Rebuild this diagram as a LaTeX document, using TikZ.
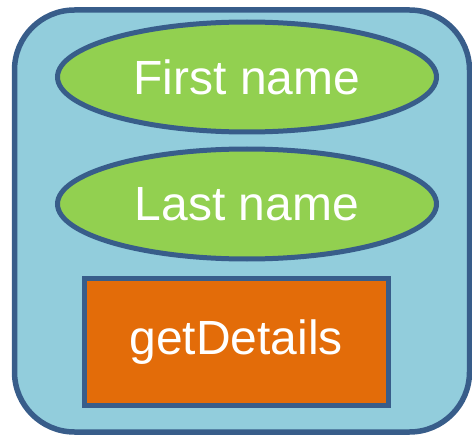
\documentclass[tikz,border=0pt]{standalone}
\usepackage{fontspec}
\setmainfont{Liberation Sans}
\usetikzlibrary{shapes.geometric}
\definecolor{panelfill}{HTML}{92CDDC}
\definecolor{edgeblue}{HTML}{385D8A}
\definecolor{fieldgreen}{HTML}{92D050}
\definecolor{methodorange}{HTML}{E36C09}
\tikzset{
  panel/.style={draw=edgeblue, fill=panelfill, line width=5.5pt, rounded corners=60pt},
  field/.style={ellipse, draw=edgeblue, fill=fieldgreen, line width=5pt,
    inner sep=0pt, minimum width=379pt, minimum height=110pt,
    text=white, font=\fontsize{48}{56}\selectfont},
  method/.style={rectangle, draw=edgeblue, fill=methodorange, line width=5pt,
    inner sep=0pt, minimum width=303.5pt, minimum height=127.5pt,
    text=white, font=\fontsize{48}{56}\selectfont},
}
\begin{document}
\begin{tikzpicture}[x=1pt, y=-1pt]
  \useasboundingbox (0,0) rectangle (472,436);
  % class container
  \draw[panel] (14.5,10) rectangle (469.5,432);
  % attributes
  \node[field] (first) at (247,77) {First name};
  \node[field] (last) at (247,204) {Last name};
  % method
  \node[method] (details) at (236.25,341.75) {getDetails};
\end{tikzpicture}
\end{document}
